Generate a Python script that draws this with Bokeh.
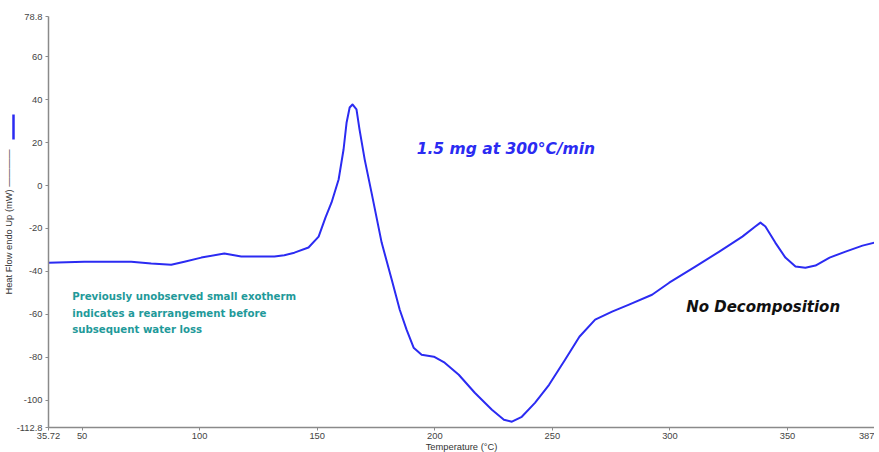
from bokeh.plotting import figure
from bokeh.models import FixedTicker, Label, Range1d, LinearAxis
from bokeh.embed import file_html
from bokeh.resources import INLINE

# Data
temperature = [35.72, 50.9, 61.1, 70.9, 79.4, 87.9, 93.5, 100.7, 110.5, 117.7, 125.0,
               131.8, 136.0, 140.3, 146.3, 150.6, 153.5, 156.1, 159.1, 161.2, 162.5,
               163.8, 165.0, 166.7, 168.0, 170.2, 173.1, 177.4, 181.7, 185.1, 188.0,
               191.0, 194.4, 199.6, 204.2, 210.2, 217.0, 224.3, 229.4, 232.8, 237.0,
               242.6, 248.6, 255.4, 261.5, 268.2, 275.4, 282.6, 292.4, 299.7, 310.8,
               321.0, 330.8, 336.3, 338.5, 340.6, 344.8, 349.1, 353.4, 357.6, 361.9,
               367.9, 374.7, 381.9, 387.0]
heat_flow = [-36.0, -35.5, -35.5, -35.5, -36.4, -36.9, -35.5, -33.6, -31.7, -33.1, -33.1,
             -33.1, -32.5, -31.3, -28.9, -23.8, -15.0, -7.9, 2.8, 16.8, 29.4,
             36.4, 37.8, 35.5, 26.1, 12.1, -3.3, -26.6, -43.9, -57.9, -67.2,
             -75.6, -78.9, -79.8, -82.6, -88.2, -96.6, -104.5, -109.2, -110.1, -107.8,
             -101.3, -92.9, -81.2, -70.5, -62.5, -58.8, -55.5, -50.9, -45.3, -37.8,
             -30.8, -23.8, -19.1, -17.3, -19.1, -26.6, -33.6, -37.8, -38.3, -37.3,
             -33.6, -30.8, -28.0, -26.6]

x_ticks = [35.72, 50, 100, 150, 200, 250, 300, 350, 387]
x_tick_labels = ["35.72", "50", "100", "150", "200", "250", "300", "350", "387"]
y_ticks = [78.8, 60, 40, 20, 0, -20, -40, -60, -80, -100, -112.8]
y_tick_labels = ["78.8", "60", "40", "20", "0", "-20", "-40", "-60", "-80", "-100", "-112.8"]
legend_key_span = (21.5, 33.1)   # extent of the blue series key beside the y label

note_lines = ["Previously unobserved small exotherm",
              "indicates a rearrangement before",
              " subsequent water loss"]
note_y = [-51.8, -59.5, -67.2]

p = figure(width=874, height=454, output_backend="svg", toolbar_location=None,
           x_range=Range1d(35.72, 387), y_range=Range1d(-112.8, 78.8),
           min_border_left=41, min_border_right=0, min_border_top=16, min_border_bottom=16)
p.outline_line_color = None
p.grid.visible = False
p.background_fill_color = "white"

p.line(temperature, heat_flow, line_color="#2b2bf2", line_width=2, line_join="round")

for ax in (p.xaxis, p.yaxis):
    ax.axis_line_color = "#8a8a8a"
    ax.axis_line_width = 1.5
    ax.major_tick_line_color = "#8a8a8a"
    ax.minor_tick_line_color = None
    ax.major_tick_in = 0
    ax.major_tick_out = 3
    ax.major_label_text_font = "Liberation Sans"
    ax.major_label_text_font_size = "7pt"
    ax.major_label_text_color = "#444444"

p.xaxis.ticker = FixedTicker(ticks=x_ticks)
p.xaxis.major_label_overrides = dict(zip(x_ticks, x_tick_labels))
p.xaxis.major_label_standoff = 2
p.xaxis.axis_label = "Temperature (°C)"
p.xaxis.axis_label_standoff = 0
p.xaxis.axis_label_text_font = "Liberation Sans"
p.xaxis.axis_label_text_font_size = "7pt"
p.xaxis.axis_label_text_font_style = "normal"
p.xaxis.axis_label_text_color = "#333333"

p.yaxis.ticker = FixedTicker(ticks=y_ticks)
p.yaxis.major_label_overrides = dict(zip(y_ticks, y_tick_labels))
p.yaxis.major_label_standoff = 3

# outer left axis: carries the y label, and its line (bounded) is the blue series key
key_axis = LinearAxis(bounds=legend_key_span, ticker=FixedTicker(ticks=[]),
                      axis_line_color="#2b2bf2", axis_line_width=2.5,
                      major_tick_line_color=None, minor_tick_line_color=None,
                      major_tick_out=0, major_tick_in=0, minor_tick_out=0,
                      major_label_standoff=0, major_label_text_font_size="0pt",
                      axis_label="Heat Flow endo Up (mW) ————",
                      axis_label_standoff=0,
                      axis_label_text_font="Liberation Sans",
                      axis_label_text_font_size="7pt",
                      axis_label_text_font_style="normal",
                      axis_label_text_color="#333333")
p.add_layout(key_axis, "left")

p.add_layout(Label(x=192.3, y=16.8, text="1.5 mg at 300°C/min", text_color="#2b2bf2",
                   text_font="DejaVu Sans", text_font_size="15.5px",
                   text_font_style="bold italic", text_baseline="middle"))
p.add_layout(Label(x=306.9, y=-56.5, text="No Decomposition", text_color="#111111",
                   text_font="DejaVu Sans", text_font_size="15px",
                   text_font_style="bold italic", text_baseline="middle"))
for line_text, yy in zip(note_lines, note_y):
    p.add_layout(Label(x=45.8, y=yy, text=line_text, text_color="#1f9a9a",
                       text_font="DejaVu Sans", text_font_size="10.2px",
                       text_font_style="bold", text_baseline="middle"))

open("out.html", "w").write(file_html(p, INLINE))
